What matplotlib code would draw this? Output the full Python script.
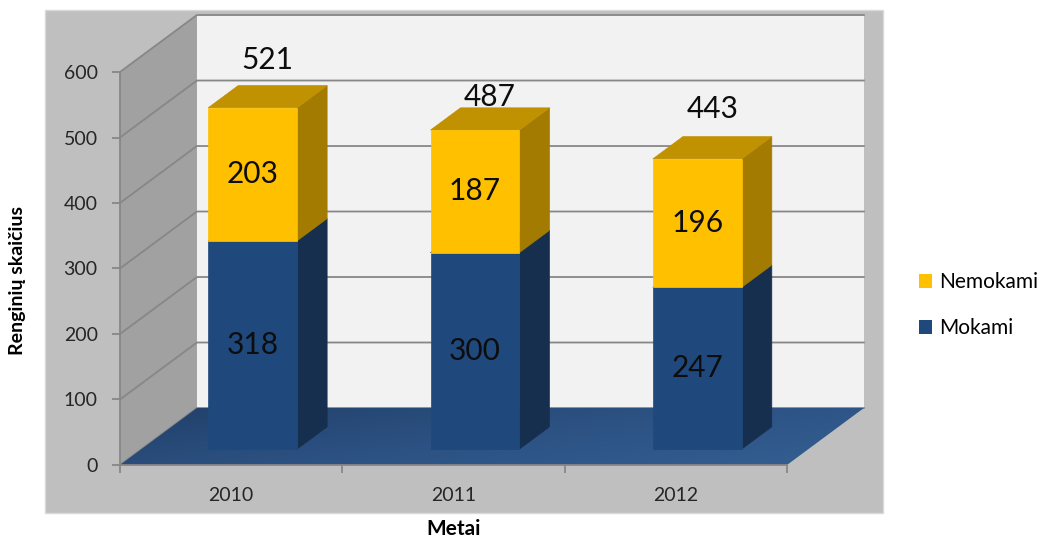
import matplotlib.pyplot as plt
import numpy as np
from matplotlib.patches import Polygon, Rectangle, Patch
from matplotlib.colors import LinearSegmentedColormap

plt.rcParams['font.family'] = ['Lato', 'DejaVu Sans']

years = ['2010', '2011', '2012']
mokami = [318, 300, 247]
nemokami = [203, 187, 196]
totals = [m + n for m, n in zip(mokami, nemokami)]
yticks = [0, 100, 200, 300, 400, 500, 600]

# fake 3d layout (data units)
DX = 0.346        # full depth shift in category units
DY = 87           # full depth shift in value units
BAR_W = 0.40
F0, F1 = 0.28, 0.67   # bar front / back as a fraction of the depth
total_nudge = [97, 75, 100]

GRID = '#878787'
BLUE = ('#1f497d', '#162f4f', '#1a3c66')      # front, side, top
GOLD = ('#ffc000', '#a37b00', '#c09100')

fig = plt.figure(figsize=(10.44, 5.41), dpi=100)
fig.patches.append(Rectangle((0.0431, 0.0518), 0.8027, 0.9298, transform=fig.transFigure,
                             facecolor='#bfbfbf', edgecolor='#d9d9d9', lw=1, zorder=-1))
ax = fig.add_axes([0.1149, 0.1405, 0.6389, 0.7264])
ax.patch.set_visible(False)

n = len(years)
top = yticks[-1]

# walls
ax.add_patch(Polygon([(DX, DY), (n + DX, DY), (n + DX, top + DY), (DX, top + DY)],
                     facecolor='#f2f2f2', edgecolor='none', clip_on=False, zorder=0.5))
ax.add_patch(Polygon([(0, 0), (DX, DY), (DX, top + DY), (0, top)],
                     facecolor='#a1a1a1', edgecolor='none', clip_on=False, zorder=0.5))
for v in yticks:
    ax.plot([0, DX, n + DX], [v, v + DY, v + DY], color=GRID, lw=1.3, clip_on=False, zorder=0.6)

# floor with a soft gradient
floor = Polygon([(0, 0), (n, 0), (n + DX, DY), (DX, DY)], facecolor='none', edgecolor='none',
                clip_on=False, zorder=0.7)
ax.add_patch(floor)
gx, gy = np.meshgrid(np.linspace(0, 1, 200), np.linspace(0, 1, 50))
shade = 0.65 * gx + 0.35 * (1 - gy)
cmap = LinearSegmentedColormap.from_list('floor', ['#22406a', '#2c5283', '#345e92'])
im = ax.imshow(shade, cmap=cmap, origin='lower', extent=(0, n + DX, 0, DY), aspect='auto',
               interpolation='bilinear', zorder=0.7)
im.set_clip_box(fig.bbox)
im.set_clip_path(floor)


def box(x0, y0, h, colors):
    front, side, roof = colors
    ox, oy = F0 * DX, F0 * DY
    ddx, ddy = (F1 - F0) * DX, (F1 - F0) * DY
    xl, xr = x0 + ox, x0 + BAR_W + ox
    yb, yt = y0 + oy, y0 + h + oy
    faces = [
        ([(xr, yb), (xr + ddx, yb + ddy), (xr + ddx, yt + ddy), (xr, yt)], side),
        ([(xl, yt), (xr, yt), (xr + ddx, yt + ddy), (xl + ddx, yt + ddy)], roof),
        ([(xl, yb), (xr, yb), (xr, yt), (xl, yt)], front),
    ]
    for pts, c in faces:
        ax.add_patch(Polygon(pts, facecolor=c, edgecolor=c, lw=0.5, clip_on=False, zorder=3))
    return (xl + xr) / 2, (yb + yt) / 2


for i in range(n):
    x0 = i + 0.5 - BAR_W / 2
    cx, cy = box(x0, 0, mokami[i], BLUE)
    ax.text(cx, cy, str(mokami[i]), ha='center', va='center', fontsize=21.5, color='#0d0d0d', zorder=4)
    cx, cy = box(x0, mokami[i], nemokami[i], GOLD)
    ax.text(cx, cy, str(nemokami[i]), ha='center', va='center', fontsize=21.5, color='#0d0d0d', zorder=4)
    tx = i + 0.5 + (F0 + F1) / 2 * DX
    ax.text(tx, totals[i] + total_nudge[i], str(totals[i]), ha='center', va='center',
            fontsize=21.5, color='#0d0d0d', zorder=4, clip_on=False)

ax.set_xlim(0, n)
ax.set_ylim(0, top)
ax.set_yticks(yticks)
ax.set_xticks(np.arange(n) + 0.5, years)
ax.set_xticks(np.arange(n + 1), minor=True)
ax.tick_params(axis='x', which='major', length=0, pad=16, labelsize=14, labelcolor='#262626')
ax.tick_params(axis='x', which='minor', length=6, color=GRID, width=1.3)
ax.tick_params(axis='y', length=6, pad=10, color=GRID, width=1.3, labelsize=14, labelcolor='#262626')
for s in ['top', 'right']:
    ax.spines[s].set_visible(False)
for s in ['left', 'bottom']:
    ax.spines[s].set_color(GRID)
    ax.spines[s].set_linewidth(1.3)

fig.text(0.017, 0.482, 'Renginių skaičius', rotation=90, fontweight='bold', fontsize=14,
         ha='center', va='center')
fig.text(0.434, 0.022, 'Metai', fontweight='bold', fontsize=15, ha='center', va='center')

handles = [Patch(facecolor=GOLD[0]), Patch(facecolor=BLUE[0])]
fig.legend(handles, ['Nemokami', 'Mokami'], loc='center left', bbox_to_anchor=(0.880, 0.436),
           frameon=False, fontsize=15, handlelength=0.62, handleheight=0.62, handletextpad=0.34,
           labelspacing=1.25, borderpad=0, borderaxespad=0)

fig.savefig('out.png', dpi=100)
